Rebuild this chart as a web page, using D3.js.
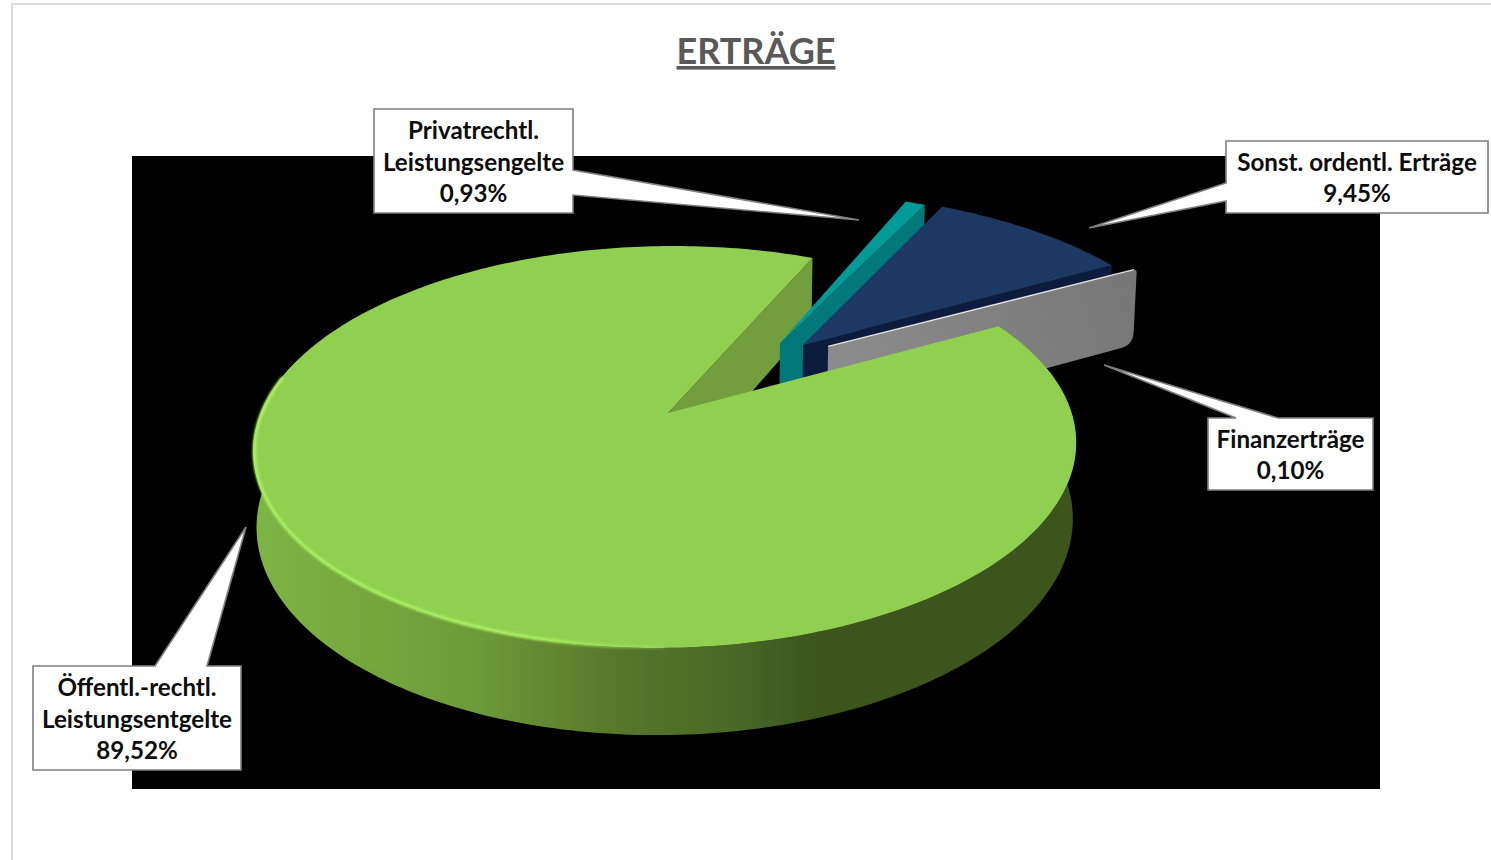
<!DOCTYPE html>
<html><head><meta charset="utf-8">
<script src="https://cdn.jsdelivr.net/npm/d3@7"></script>
<style>html,body{margin:0;padding:0;background:#fff;overflow:hidden}svg{display:block}</style>
</head><body><svg id="c" width="1491" height="860"></svg>
<script>
const chartTitle = "ERTRÄGE";
const categories = [["Öffentl.-rechtl.","Leistungsentgelte"],["Privatrechtl.","Leistungsengelte"],["Sonst. ordentl. Erträge"],["Finanzerträge"]];
const shares = [89.52, 0.93, 9.45, 0.10];
const topColors = ["#90cf50","#009b98","#1f3864","#8a8a8a"];
const wallColors = ["#739e3c","#00787a","#0f1f3e","#7f7f7f"];

const deg = Math.PI/180;
const svg = d3.select("#c");
const defs = svg.append("defs");

// perspective of the tilted disc
const P = {cx:668, cy:413, A:405.6, B:195.2, k:0.169, m:0.008, D:75};
function project(u,v,z,t=0){
  const w = 1 + P.k*v + P.m*z;
  return [P.cx + P.A*u/w, P.cy + (-P.B*v - t*u + P.D*z)/w];
}
// explosion of each slice on the disc plane, radius, rotation and slight tilt
const explode = [[0,0],[0.294,0.382],[0.354,0.372],[0.419,0.362]];
const radius = [1,1.035,1.028,1.022];
const rimShift = [-0.008,0,0,0];
const tilt = [4,0,0,0];
const turn = [0,-0.6*deg,-1*deg,-0.6*deg];
const pieStart = 62.5*deg;

const arcs = d3.pie().sort(null).value(d=>d).startAngle(pieStart).endAngle(pieStart+2*Math.PI)(shares);
const line = d3.line();
const closed = d3.line().curve(d3.curveLinearClosed);
function rim(i,a0,r,z){const [ou,ov]=explode[i];const a=a0+turn[i];const R=r===undefined?radius[i]:r;return project(ou+rimShift[i]+R*Math.sin(a),ov+R*Math.cos(a),z,tilt[i]);}
function apex(i,z){return project(explode[i][0],explode[i][1],z);}
function arcPts(i,a0,a1,z,r){const n=Math.max(2,Math.ceil(Math.abs(a1-a0)/deg));return d3.range(n+1).map(j=>rim(i,a0+(a1-a0)*j/n,r,z));}
function topPath(i){const a=arcs[i];return closed([apex(i,0),...arcPts(i,a.startAngle,a.endAngle,0)]);}
function sideWall(i,a,r,z0,z1){return closed([apex(i,z0),rim(i,a,r,z0),rim(i,a,r,z1),apex(i,z1)]);}
function toward(p,q,d){const L=Math.hypot(q[0]-p[0],q[1]-p[1]);return [p[0]+(q[0]-p[0])*d/L,p[1]+(q[1]-p[1])*d/L];}
function roundedWall(i,a,r,z0,z1,r1,r2){
  const A=apex(i,z0),B=rim(i,a,r,z0),C=rim(i,a,r,z1),D=apex(i,z1);
  const p=d3.path(), b0=toward(B,A,r1), b1=toward(B,C,r1), c0=toward(C,B,r2), c1=toward(C,D,r2);
  p.moveTo(A[0],A[1]); p.lineTo(b0[0],b0[1]); p.quadraticCurveTo(B[0],B[1],b1[0],b1[1]);
  p.lineTo(c0[0],c0[1]); p.quadraticCurveTo(C[0],C[1],c1[0],c1[1]); p.lineTo(D[0],D[1]); p.closePath();
  return p.toString();
}

// page frame
svg.append("rect").attr("x",12).attr("y",4).attr("width",1490).attr("height",870).attr("fill","none").attr("stroke","#dcdcdc").attr("stroke-width",2);
// plot area
svg.append("rect").attr("x",132).attr("y",156).attr("width",1248).attr("height",633).attr("fill","#000");

svg.append("text").attr("x",756).attr("y",64).attr("text-anchor","middle")
  .attr("font-family","Lato").attr("font-weight",700).attr("font-size",36).attr("fill","#595959")
  .attr("text-decoration","underline").text(chartTitle);

// gradients
const wg = defs.append("linearGradient").attr("id","wg").attr("gradientUnits","userSpaceOnUse")
  .attr("x1",258).attr("x2",1076).attr("y1",0).attr("y2",0);
const wallStops = [[258,"#7db545"],[400,"#72a33c"],[480,"#6c9a38"],[560,"#60852f"],[650,"#507229"],[730,"#4a6a27"],[785,"#3e5c20"],[830,"#3b541e"],[1076,"#3b541e"]];
wallStops.forEach(s=>wg.append("stop").attr("offset",(s[0]-258)/818).attr("stop-color",s[1]));
const hg = defs.append("linearGradient").attr("id","hg").attr("gradientUnits","userSpaceOnUse")
  .attr("x1",254).attr("x2",690).attr("y1",0).attr("y2",0);
[[0,"#a9ef63",1],[0.65,"#a9ef63",1],[1,"#a9ef63",0]]
  .forEach(s=>hg.append("stop").attr("offset",s[0]).attr("stop-color",s[1]).attr("stop-opacity",s[2]));
const gg = defs.append("linearGradient").attr("id","gg").attr("gradientUnits","userSpaceOnUse")
  .attr("x1",830).attr("x2",1130).attr("y1",370).attr("y2",280);
[[0,"#8c8c8c"],[1,"#777777"]].forEach(s=>gg.append("stop").attr("offset",s[0]).attr("stop-color",s[1]));
defs.append("filter").attr("id","soft").append("feGaussianBlur").attr("stdDeviation",0.9);
defs.append("filter").attr("id","soft2").attr("filterUnits","userSpaceOnUse").attr("x",0).attr("y",0).attr("width",1491).attr("height",860)
  .append("feGaussianBlur").attr("stdDeviation",0.6);

const pie3d = svg.append("g").attr("filter","url(#soft2)");
// green cut wall (behind everything)
pie3d.append("path").attr("d",sideWall(0,arcs[0].endAngle,1,0,1)).attr("fill",wallColors[0]);
// teal, navy
[1,2].forEach(i=>{
  pie3d.append("path").attr("d",sideWall(i,arcs[i].endAngle,radius[i],0,1)).attr("fill",wallColors[i]);
  pie3d.append("path").attr("d",topPath(i)).attr("fill",topColors[i]);
});
// grey slice: nearly all that shows is its rounded side wall
pie3d.append("path").attr("d",roundedWall(3,arcs[3].endAngle,radius[3],0,1.15,4,13)).attr("fill","url(#gg)");
pie3d.append("path").attr("d",line([apex(3,0),toward(rim(3,arcs[3].endAngle,radius[3],0),apex(3,0),3)]))
  .attr("fill","none").attr("stroke","#e4e4e4").attr("stroke-width",1.4);
// green outer wall
const wallTop = arcPts(0,pieStart,285*deg,0);
const wallBot = arcPts(0,285*deg,pieStart,1);
pie3d.append("path").attr("d",closed([...wallTop,...wallBot])).attr("fill","url(#wg)");
// green top
pie3d.append("path").attr("d",topPath(0)).attr("fill",topColors[0]);
// bevel highlight on the front-left rim
pie3d.append("path").attr("d",line(arcPts(0,180*deg,282*deg,0,0.997)))
  .attr("fill","none").attr("stroke","url(#hg)").attr("stroke-width",3.6).attr("filter","url(#soft)");

// callouts
const fmt = d3.formatLocale({decimal:",",thousands:".",grouping:[3],currency:["","€"]}).format(".2f");
const callouts = [
 {i:0,box:[33,666,208,104],side:"top",a:[155,207],tip:[246,527],first:696},
 {i:1,box:[374,109,199,104],side:"right",a:[170,195],tip:[859,220],first:139},
 {i:2,box:[1226,141,262,72],side:"left",a:[183,201],tip:[1089,228],first:170.7},
 {i:3,box:[1208,418,165,72],side:"top",a:[1236,1278],tip:[1104,365],first:447.7}
];
const lab = svg.append("g");
callouts.forEach(c=>{
  const [x,y,w,h]=c.box, X=x+w, Y=y+h;
  let pts;
  if(c.side==="top") pts=[[x,y],[c.a[0],y],c.tip,[c.a[1],y],[X,y],[X,Y],[x,Y]];
  if(c.side==="right") pts=[[x,y],[X,y],[X,c.a[0]],c.tip,[X,c.a[1]],[X,Y],[x,Y]];
  if(c.side==="left") pts=[[x,y],[X,y],[X,Y],[x,Y],[x,c.a[1]],c.tip,[x,c.a[0]]];
  lab.append("path").attr("d",closed(pts)).attr("fill","#fff").attr("stroke","#7f7f7f").attr("stroke-width",1.6).attr("stroke-linejoin","miter");
  const lines=[...categories[c.i],fmt(shares[c.i])+"%"];
  lab.selectAll(null).data(lines).enter().append("text")
    .attr("x",x+w/2).attr("y",(d,j)=>c.first+j*31.7).attr("text-anchor","middle")
    .attr("font-family","Lato").attr("font-weight",700).attr("font-size",24.2).attr("fill","#0d0d0d").text(d=>d);
});
</script></body></html>
